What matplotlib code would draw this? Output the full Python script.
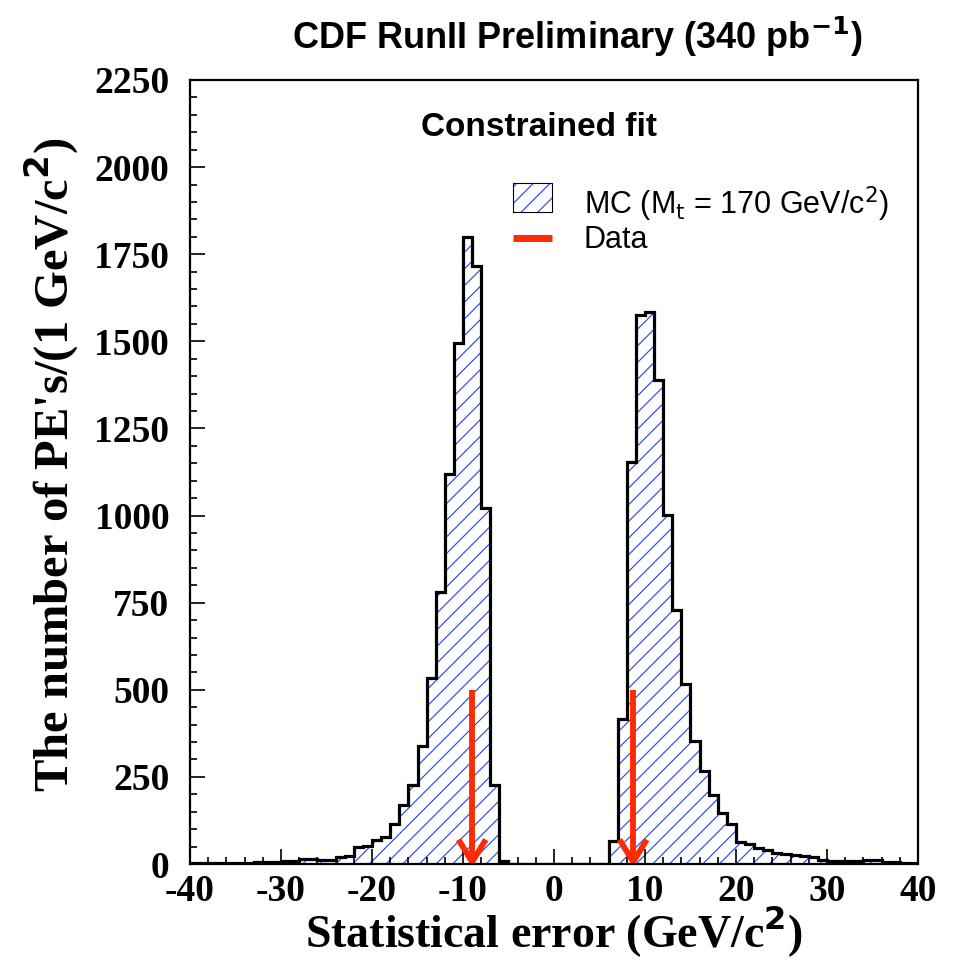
import numpy as np
import matplotlib.pyplot as plt
from matplotlib.ticker import MultipleLocator

plt.rcParams['hatch.linewidth'] = 0.8
plt.rcParams['hatch.color'] = '#1f3fff'
plt.rcParams['axes.unicode_minus'] = False

# bin edges, 1 GeV/c^2 wide
edges = np.arange(-40, 41, 1)

# MC pseudo-experiment counts, one per bin from -40 to 40
counts_neg = [2, 2, 3, 3, 3, 4, 4, 5, 6, 6,
              8, 9, 14, 15, 12, 12, 20, 22, 48, 52,
              70, 78, 115, 170, 228, 340, 535, 780, 1120, 1495,
              1798, 1715, 1023, 226, 8, 0, 0, 0, 0, 0]
counts_pos = [0, 0, 0, 0, 0, 0, 66, 415, 1154, 1576,
              1585, 1389, 1001, 729, 516, 354, 268, 197, 147, 114,
              63, 57, 46, 41, 33, 28, 25, 23, 19, 11,
              9, 9, 9, 10, 11, 11, 6, 6, 3, 3]
counts = np.array(counts_neg + counts_pos)

# measured statistical errors from data
data_x = [-9.0, 8.7]
arrow_top = 500

red = '#ff2a00'
blue = '#1f3fff'

fig = plt.figure(figsize=(9.67, 9.6), dpi=100)
ax = fig.add_axes([0.1965, 0.1, 0.7528, 0.8167])

ax.stairs(counts, edges, fill=True, facecolor='none', edgecolor=blue,
          hatch='//', linewidth=0)
ax.stairs(counts, edges, color='black', linewidth=2.3)

for x in data_x:
    ax.plot([x, x], [arrow_top, 20], color=red, lw=4.2, solid_capstyle='butt')
    ax.plot([x - 1.5, x, x + 1.5], [70, 6, 70], color=red, lw=4.2,
            solid_joinstyle='miter', solid_capstyle='butt')

ax.set_xlim(-40, 40)
ax.set_ylim(0, 2250)
ax.xaxis.set_major_locator(MultipleLocator(10))
ax.xaxis.set_minor_locator(MultipleLocator(2))
ax.yaxis.set_major_locator(MultipleLocator(250))
ax.yaxis.set_minor_locator(MultipleLocator(50))
ax.tick_params(which='both', direction='in', top=False, right=False, width=1.2)
ax.tick_params(which='major', length=11)
ax.tick_params(which='minor', length=5)
ax.tick_params(axis='x', which='major', labelsize=27, pad=7)
ax.tick_params(axis='y', which='major', labelsize=27, pad=15)
for lab in ax.get_xticklabels() + ax.get_yticklabels():
    lab.set_family('Liberation Serif')
    lab.set_weight('bold')
for s in ax.spines.values():
    s.set_linewidth(1.6)

ax.set_xlabel('Statistical error (GeV/c$^{\\mathbf{2}}$)', family='Liberation Serif',
              weight='bold', fontsize=33, labelpad=-4)
ax.set_ylabel("The number of PE's/(1 GeV/c$^{\\mathbf{2}}$)", family='Liberation Serif',
              weight='bold', fontsize=35)
ax.yaxis.set_label_coords(-0.150, 0.51)

fig.text(0.597, 0.962, 'CDF RunII Preliminary (340 pb$^{\\mathbf{-1}}$)',
         ha='center', va='center', family='Liberation Sans', weight='bold', fontsize=26)
ax.text(0.48, 0.940, 'Constrained fit', transform=ax.transAxes, ha='center',
        va='center', family='Liberation Sans', weight='bold', fontsize=24)

# legend
ax.fill_between([0.443, 0.497], [0.832, 0.832], [0.869, 0.869], transform=ax.transAxes,
                facecolor='none', edgecolor=blue, hatch='//', linewidth=0)
ax.plot([0.443, 0.497, 0.497, 0.443, 0.443], [0.832, 0.832, 0.869, 0.869, 0.832],
        transform=ax.transAxes, color='black', lw=0.8)
ax.plot([0.443, 0.497], [0.798, 0.798], transform=ax.transAxes, color=red, lw=5,
        solid_capstyle='butt')
ax.text(0.541, 0.842, 'MC (M$_\\mathrm{t}$ = 170 GeV/c$^2$)', transform=ax.transAxes,
        va='center', family='Liberation Sans', fontsize=22)
ax.text(0.541, 0.796, 'Data', transform=ax.transAxes,
        va='center', family='Liberation Sans', fontsize=22)

fig.savefig('out.png', dpi=100)
